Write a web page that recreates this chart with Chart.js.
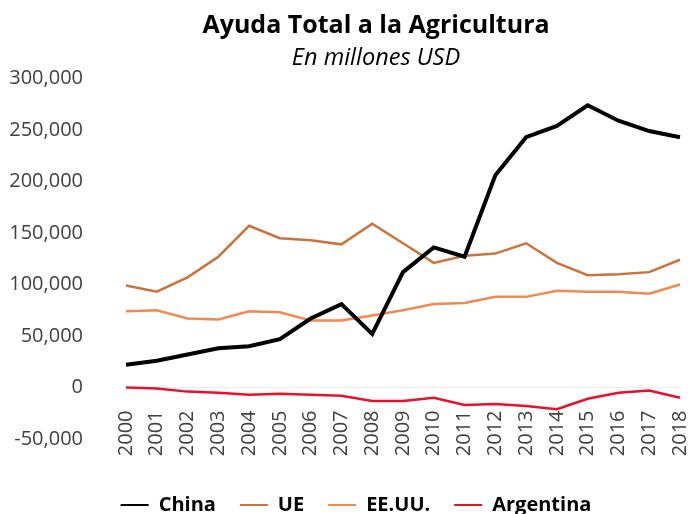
<!DOCTYPE html>
<html>
<head>
<meta charset="utf-8">
<script src="https://cdn.jsdelivr.net/npm/chart.js@4.4.1/dist/chart.umd.min.js"></script>
<style>
  html, body { margin: 0; padding: 0; background: #fff; }
  #wrap { width: 690px; height: 514px; }
</style>
</head>
<body>
<div id="wrap"><canvas id="chart" width="690" height="514"></canvas></div>
<script>
// Ayuda Total a la Agricultura, millones USD
var YEARS = ["2000", "2001", "2002", "2003", "2004", "2005", "2006", "2007", "2008", "2009",
  "2010", "2011", "2012", "2013", "2014", "2015", "2016", "2017", "2018"];
var CHINA = [22000, 26000, 32000, 38000, 40000, 47000, 67000, 81000, 52000, 112000,
  136000, 127000, 206000, 243000, 254000, 274000, 259000, 249000, 243000];
var UE = [99000, 93000, 107000, 127000, 157000, 145000, 143000, 139000, 159000, 140000,
  121000, 128000, 130000, 140000, 121000, 109000, 110000, 112000, 124000];
var EEUU = [74000, 75000, 67000, 66000, 74000, 73000, 65000, 65000, 70000, 75000,
  81000, 82000, 88000, 88000, 94000, 93000, 93000, 91000, 100000];
var ARGENTINA = [0, -1000, -4000, -5000, -7000, -6000, -7000, -8000, -13000, -13000,
  -10000, -17000, -16000, -18000, -21000, -11000, -5000, -3000, -10000];

var TITLE = "Ayuda Total a la Agricultura";
var SUBTITLE = "En millones USD";
var FONT = "'Open Sans', 'DejaVu Sans', sans-serif";

function serie(label, data, color, width) {
  return {
    label: label,
    data: data,
    borderColor: color,
    backgroundColor: color,
    borderWidth: width,
    pointRadius: 0,
    fill: false,
    tension: 0
  };
}

// title and legend sit centred over the plot, not over the whole canvas
var shiftBlocks = {
  id: "shiftBlocks",
  afterLayout: function (chart) {
    chart.boxes.forEach(function (b) {
      var dx = 0;
      if (b === chart.legend) dx = 16;
      else if (b.options && (b.options.text === TITLE || b.options.text === SUBTITLE)) dx = 36;
      if (dx) { b.left += dx; b.right += dx; }
    });
  }
};

new Chart(document.getElementById("chart"), {
  type: "line",
  data: {
    labels: YEARS,
    datasets: [
      serie("China", CHINA, "#000000", 4),
      serie("UE", UE, "#C8743C", 2.5),
      serie("EE.UU.", EEUU, "#F08A50", 2.5),
      serie("Argentina", ARGENTINA, "#EA102C", 2.5)
    ]
  },
  plugins: [shiftBlocks],
  options: {
    responsive: false,
    animation: false,
    layout: { padding: { left: 0, right: 10, top: 4, bottom: -11 } },
    plugins: {
      title: {
        display: true,
        text: TITLE,
        color: "#000",
        font: { family: FONT, size: 25, weight: "bold", lineHeight: 1 },
        padding: { top: 9, bottom: 2 }
      },
      subtitle: {
        display: true,
        text: SUBTITLE,
        color: "#000",
        font: { family: FONT, size: 23.5, style: "italic", lineHeight: 1 },
        padding: { top: 7, bottom: 8 }
      },
      legend: {
        position: "bottom",
        // empty legend title used as gap below the rotated year labels
        title: {
          display: true,
          text: " ",
          padding: 0,
          font: { family: FONT, size: 10, lineHeight: "32px" }
        },
        labels: {
          color: "#000",
          font: { family: FONT, size: 20, weight: "bold" },
          boxWidth: 28,
          boxHeight: 2,
          padding: 24,
          generateLabels: function (chart) {
            var items = Chart.defaults.plugins.legend.labels.generateLabels(chart);
            items.forEach(function (it) {
              it.fillStyle = it.strokeStyle;
              it.lineWidth = 0;
            });
            return items;
          }
        }
      },
      tooltip: { enabled: false }
    },
    scales: {
      x: {
        position: { y: 0 },
        grid: { display: false },
        border: { display: false },
        ticks: {
          color: "#404040",
          font: { family: FONT, size: 20 },
          maxRotation: 90,
          minRotation: 90,
          autoSkip: false,
          padding: 15
        },
        afterFit: function (scale) {
          scale.paddingLeft = 0;
          scale.paddingRight = 0;
        }
      },
      y: {
        min: -50000,
        max: 300000,
        border: { display: false },
        grid: {
          drawTicks: false,
          color: function (ctx) {
            return ctx.tick && ctx.tick.value === 0 ? "#ececec" : "rgba(0,0,0,0)";
          }
        },
        ticks: {
          stepSize: 50000,
          color: "#404040",
          font: { family: FONT, size: 20, lineHeight: 1 },
          padding: 43,
          callback: function (v) { return v.toLocaleString("en-US"); }
        },
        afterFit: function (scale) { scale.width = 126; }
      }
    }
  }
});
</script>
</body>
</html>
